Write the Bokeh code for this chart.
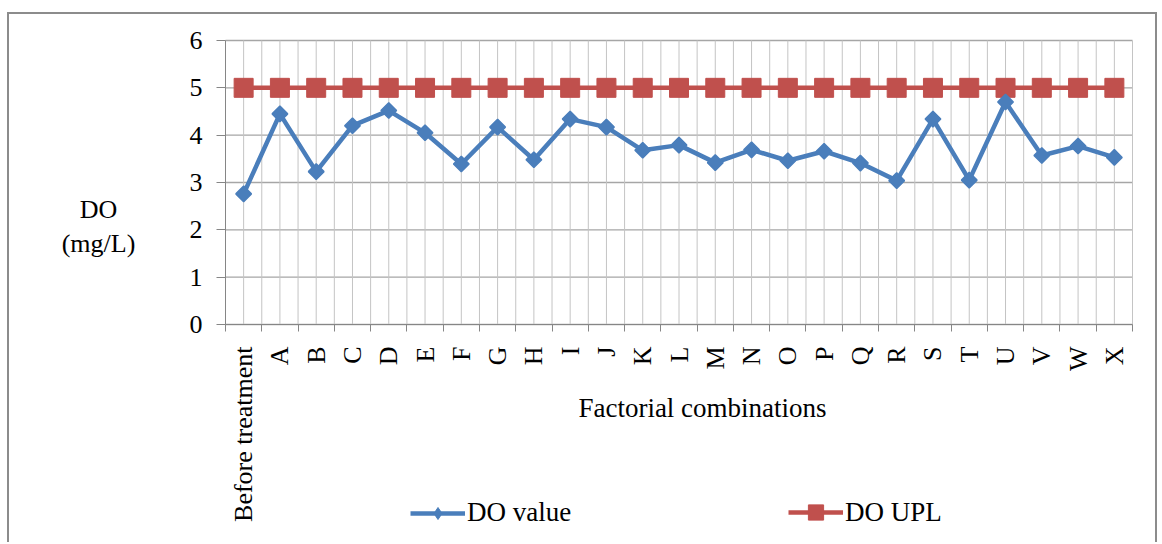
from bokeh.plotting import figure
from bokeh.models import Range1d, FixedTicker, Label, Legend, LegendItem, LinearAxis
from bokeh.embed import file_html
from bokeh.resources import INLINE
import math

categories = ["Before treatment", "A", "B", "C", "D", "E", "F", "G", "H", "I", "J", "K",
              "L", "M", "N", "O", "P", "Q", "R", "S", "T", "U", "V", "W", "X"]
do_value = [2.76, 4.45, 3.23, 4.20, 4.52, 4.05, 3.39, 4.17, 3.48, 4.34, 4.17, 3.68,
            3.79, 3.42, 3.69, 3.46, 3.66, 3.41, 3.04, 4.34, 3.05, 4.70, 3.57, 3.77, 3.53]
do_upl = [5, 5, 5, 5, 5, 5, 5, 5, 5, 5, 5, 5, 5, 5, 5, 5, 5, 5, 5, 5, 5, 5, 5, 5, 5]
y_ticks = [0, 1, 2, 3, 4, 5, 6]

FONT = "Liberation Serif"
BLUE = "#4a7ebb"
RED = "#c0504d"

n = len(categories)
xs = list(range(n))
x_lo, x_hi = -0.5, n - 0.5
y_lo, y_hi = y_ticks[0], y_ticks[-1]

# canvas (inside border) and plot-area pixel geometry
CW, CH = 1150, 530
AREA_L, AREA_R, AREA_T, AREA_B = 216, 1123, 26, 310   # plot area inside canvas
ux = (AREA_R - AREA_L) / (x_hi - x_lo)
uy = (AREA_B - AREA_T) / (y_hi - y_lo)
xr = Range1d(x_lo - AREA_L / ux, x_hi + (CW - AREA_R) / ux)
yr = Range1d(y_lo - (CH - AREA_B) / uy, y_hi + AREA_T / uy)

p = figure(width=CW, height=CH, output_backend="svg", toolbar_location=None,
           x_range=xr, y_range=yr, x_axis_location=None, y_axis_location=None,
           min_border=0, margin=(12, 0, 0, 7),
           styles={"border-left": "2px solid #8c8c8c", "border-top": "2px solid #8c8c8c",
                   "border-right": "2px solid #8c8c8c"})
p.outline_line_color = None
p.background_fill_color = "white"
p.border_fill_color = "white"
p.grid.visible = False

bounds_x = [i - 0.5 for i in range(n + 1)]

# grid lines (plot area only)
p.segment(x0=[x_lo] * len(y_ticks), y0=y_ticks, x1=[x_hi] * len(y_ticks), y1=y_ticks,
          line_color="#a6a6a6", line_width=1.3)
vx = xs + bounds_x
p.segment(x0=vx, y0=[y_lo] * len(vx), x1=vx, y1=[y_hi] * len(vx),
          line_color="#c4c4c4", line_width=1)

xticker = FixedTicker(ticks=xs, minor_ticks=bounds_x)
xaxis = LinearAxis(ticker=xticker, fixed_location=y_lo, bounds=(x_lo, x_hi))
xaxis.major_label_overrides = {i: c for i, c in zip(xs, categories)}
xaxis.major_label_orientation = math.pi / 2
xaxis.major_tick_out = 0
xaxis.major_tick_in = 0
xaxis.minor_tick_out = 7
xaxis.minor_tick_in = 0
xaxis.minor_tick_line_color = "#868686"
xaxis.axis_line_color = "#868686"
xaxis.major_label_standoff = 15
xaxis.major_label_text_font = FONT
xaxis.major_label_text_font_size = "26px"
xaxis.major_label_text_color = "black"
p.add_layout(xaxis, "below")

yaxis = LinearAxis(ticker=FixedTicker(ticks=y_ticks), fixed_location=x_lo, bounds=(y_lo, y_hi))
yaxis.major_tick_out = 9
yaxis.major_tick_in = 0
yaxis.minor_tick_out = 0
yaxis.minor_tick_in = 0
yaxis.axis_line_color = "#868686"
yaxis.major_tick_line_color = "#868686"
yaxis.major_label_standoff = 14
yaxis.major_label_text_font = FONT
yaxis.major_label_text_font_size = "26px"
yaxis.major_label_text_color = "black"
p.add_layout(yaxis, "left")

r_upl_line = p.line(xs, do_upl, line_color=RED, line_width=4.5)
r_upl_pts = p.scatter(xs, do_upl, marker="square", size=19, fill_color=RED, line_color=RED)
r_val_line = p.line(xs, do_value, line_color=BLUE, line_width=4.5)
# diamond markers (used for the legend key), covered by the slightly larger rotated squares
r_val_key = p.scatter(xs, do_value, marker="diamond", size=13, fill_color=BLUE,
                      line_color=BLUE, line_width=1)
r_val_pts = p.scatter(xs, do_value, marker="square", angle=math.pi / 4, size=11,
                      fill_color=BLUE, line_color=BLUE, line_width=1.5)

common = dict(orientation="horizontal", glyph_width=55, label_standoff=2,
              padding=0, margin=0, border_line_alpha=0, background_fill_alpha=0,
              label_text_font=FONT, label_text_font_size="27px", label_text_color="black")
legend1 = Legend(items=[LegendItem(label="DO value", renderers=[r_val_line, r_val_key])],
                 location=(401, 16), glyph_height=30, **common)
legend2 = Legend(items=[LegendItem(label="DO UPL", renderers=[r_upl_line, r_upl_pts])],
                 location=(779, 13), glyph_height=38, **common)
p.add_layout(legend1, "center")
p.add_layout(legend2, "center")

p.add_layout(Label(x=693, y=137, x_units="screen", y_units="screen",
                   text="Factorial combinations", text_align="center", text_baseline="middle",
                   text_font=FONT, text_font_size="27px", text_color="black"))
p.add_layout(Label(x=89, y=318, x_units="screen", y_units="screen",
                   text="DO\n(mg/L)", text_align="center", text_baseline="middle",
                   text_font=FONT, text_font_size="26px", text_color="black",
                   text_line_height=1.2))

open("out.html", "w").write(file_html(p, INLINE))
